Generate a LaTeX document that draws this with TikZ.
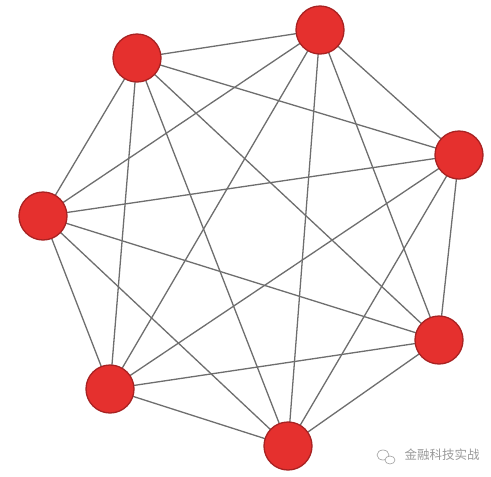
\documentclass[tikz,border=0pt]{standalone}
\usepackage{fontspec}
\newfontfamily\cjk{Noto Sans CJK SC}
\definecolor{nodered}{HTML}{E5302E}
\definecolor{noderim}{HTML}{A82222}
\definecolor{edgegray}{HTML}{6E6E6E}
\definecolor{markgray}{HTML}{9A9A9A}
\begin{document}
\begin{tikzpicture}[x=1pt,y=-1pt,
  vertex/.style={circle,fill=nodered,draw=noderim,line width=1.3pt,minimum size=48pt,inner sep=0pt},
  edge/.style={draw=edgegray,line width=1.3pt},
  wmtext/.style={text=markgray,font=\cjk\fontsize{12.5}{14}\selectfont}]
\useasboundingbox[fill=white] (0,0) rectangle (491,477);
\coordinate (p1) at (137,58);
\coordinate (p2) at (320,30);
\coordinate (p3) at (459,155);
\coordinate (p4) at (43,216);
\coordinate (p5) at (439,340);
\coordinate (p6) at (110,389);
\coordinate (p7) at (288,446);
\foreach \a/\b in {1/2,1/3,1/4,1/5,1/6,1/7,2/3,2/4,2/5,2/6,2/7,3/4,3/5,3/6,3/7,4/5,4/6,4/7,5/6,5/7,6/7}
  \draw[edge] (p\a) -- (p\b);
\foreach \i in {1,...,7}
  \node[vertex] (n\i) at (p\i) {};
% watermark
\draw[markgray,line width=0.6pt] (383,455) ellipse [x radius=6,y radius=5];
\draw[markgray,line width=0.6pt,fill=white] (390,460) ellipse [x radius=5,y radius=4];
\node[wmtext,anchor=west] (wm) at (401,455) {金融科技实战};
\end{tikzpicture}
\end{document}
